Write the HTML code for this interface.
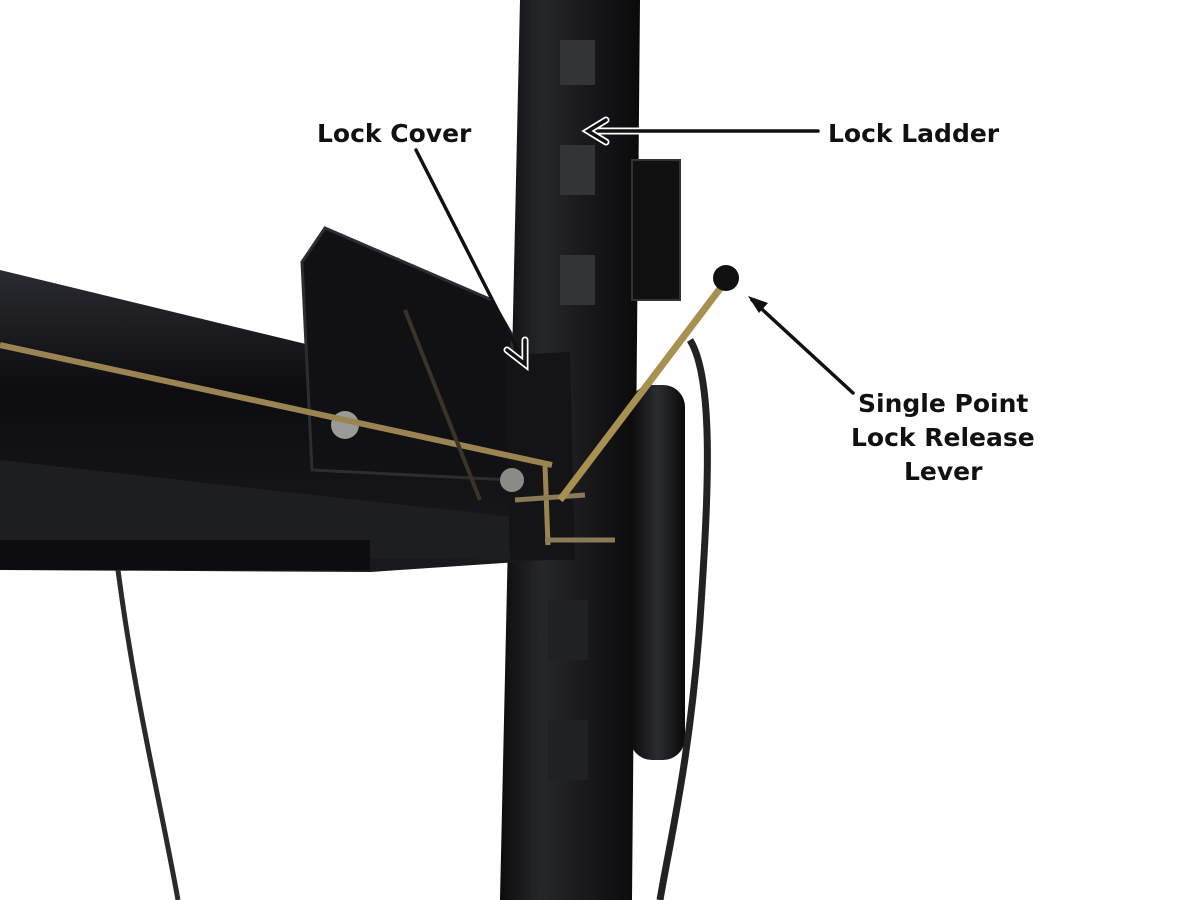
<!DOCTYPE html>
<html><head><meta charset="utf-8"><style>
html,body{margin:0;padding:0;background:#fff;width:1200px;height:900px;overflow:hidden}
svg{display:block}
text{font-family:"DejaVu Sans","Liberation Sans",sans-serif;font-weight:bold;font-size:25px;fill:#111}
</style></head><body>
<svg width="1200" height="900" viewBox="0 0 1200 900" xmlns="http://www.w3.org/2000/svg">
<defs>
<linearGradient id="col" x1="0" x2="1"><stop offset="0" stop-color="#0c0c0e"/><stop offset="0.3" stop-color="#26272b"/><stop offset="0.7" stop-color="#151518"/><stop offset="1" stop-color="#0a0a0b"/></linearGradient>
<linearGradient id="cyl" x1="0" x2="1"><stop offset="0" stop-color="#0b0b0c"/><stop offset="0.5" stop-color="#2b2c30"/><stop offset="1" stop-color="#0a0a0a"/></linearGradient>
<linearGradient id="beam" x1="0" y1="0" x2="0" y2="1"><stop offset="0" stop-color="#2a2b30"/><stop offset="0.4" stop-color="#0d0d10"/><stop offset="1" stop-color="#1a1a1d"/></linearGradient>
</defs>
<rect width="1200" height="900" fill="#fff"/>
<polygon points="520,0 640,0 632,900 500,900" fill="url(#col)"/>
<rect x="560" y="40" width="35" height="45" fill="#333438"/>
<rect x="560" y="145" width="35" height="50" fill="#333438"/>
<rect x="560" y="255" width="35" height="50" fill="#333438"/>
<rect x="548" y="600" width="40" height="60" fill="#202124"/>
<rect x="548" y="720" width="40" height="60" fill="#202124"/>
<rect x="632" y="160" width="48" height="140" fill="#111" stroke="#333" stroke-width="2"/>
<rect x="630" y="385" width="55" height="375" rx="22" fill="url(#cyl)"/>
<polygon points="0,270 310,345 545,385 548,560 370,572 0,570" fill="url(#beam)"/>
<polygon points="0,460 540,520 540,560 0,555" fill="#1d1e22"/>
<rect x="0" y="540" width="370" height="30" fill="#0d0d0f"/>
<polygon points="302,262 325,228 492,300 512,335 512,480 312,470" fill="#111114" stroke="#2c2d32" stroke-width="3"/>
<polygon points="505,355 570,352 575,560 510,560" fill="#141417"/>
<circle cx="345" cy="425" r="14" fill="#9a9a96"/>
<circle cx="512" cy="480" r="12" fill="#8a8a86"/>
<line x1="0" y1="345" x2="552" y2="465" stroke="#9a8552" stroke-width="6"/>
<line x1="405" y1="310" x2="480" y2="500" stroke="#3a3426" stroke-width="4"/>
<line x1="545" y1="465" x2="548" y2="545" stroke="#9a8552" stroke-width="5"/>
<line x1="515" y1="500" x2="585" y2="495" stroke="#8a7a55" stroke-width="5"/>
<line x1="545" y1="540" x2="615" y2="540" stroke="#8a7a55" stroke-width="5"/>
<line x1="560" y1="500" x2="725" y2="282" stroke="#a89050" stroke-width="7"/>
<circle cx="726" cy="278" r="13" fill="#111"/>
<path d="M118,570 C135,700 160,800 178,900" fill="none" stroke="#2a2a2a" stroke-width="5"/>
<path d="M690,340 C715,380 708,500 700,620 C690,760 670,840 660,900" fill="none" stroke="#222" stroke-width="7"/>
<text x="317" y="142">Lock Cover</text>
<text x="828" y="142">Lock Ladder</text>
<text x="858" y="412">Single Point</text>
<text x="851" y="446">Lock Release</text>
<text x="904" y="480">Lever</text>
<g fill="none" stroke-linecap="round">
<line x1="818" y1="131" x2="590" y2="131" stroke="#fff" stroke-width="7"/>
<line x1="818" y1="131" x2="590" y2="131" stroke="#111" stroke-width="3.5"/>
<polyline points="606,120 588,131 606,142" stroke="#fff" stroke-width="7"/>
<polyline points="606,120 588,131 606,142" stroke="#111" stroke-width="3.5"/>
<line x1="416" y1="150" x2="524" y2="362" stroke="#111" stroke-width="3.5"/>
<polyline points="507,350 525,364 525,340" stroke="#fff" stroke-width="7"/>
<polyline points="507,350 525,364 525,340" stroke="#111" stroke-width="3.5"/>
<line x1="853" y1="393" x2="752" y2="300" stroke="#111" stroke-width="3.5"/>
</g>
<polygon points="748,296 768,303 759,313" fill="#111"/>
</svg>
</body></html>
